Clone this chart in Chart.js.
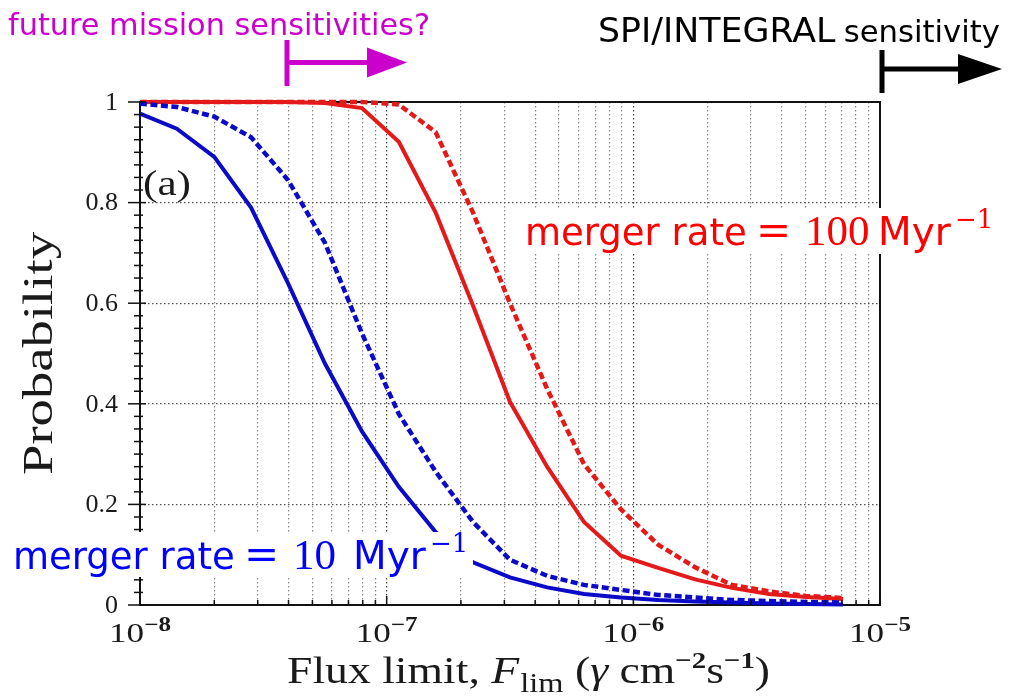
<!DOCTYPE html>
<html>
<head>
<meta charset="utf-8">
<script src="https://cdn.jsdelivr.net/npm/chart.js@4.4.1/dist/chart.umd.min.js"></script>
<style>
  html, body { margin: 0; padding: 0; background: #fff; }
  #wrap { width: 1015px; height: 700px; position: relative; }
</style>
</head>
<body>
<div id="wrap"><canvas id="probChart" width="1015" height="700"></canvas></div>
<script>
// flux limit grid (gamma cm^-2 s^-1)
var fluxLimits = [1.00e-8, 1.41e-8, 2.00e-8, 2.82e-8, 3.98e-8, 5.62e-8, 7.94e-8,
    1.12e-7, 1.58e-7, 2.24e-7, 3.16e-7, 4.47e-7, 6.31e-7, 8.91e-7,
    1.26e-6, 1.78e-6, 2.51e-6, 3.55e-6, 5.01e-6, 7.08e-6];

// merger rate = 10 / Myr
var rate10Solid = [0.977, 0.947, 0.891, 0.79, 0.64, 0.48, 0.345, 0.235, 0.145, 0.085,
    0.055, 0.035, 0.022, 0.015, 0.010, 0.007, 0.005, 0.003, 0.002, 0.001];
var rate10Dashed = [0.997, 0.99, 0.971, 0.93, 0.845, 0.72, 0.54, 0.38, 0.265, 0.165,
    0.09, 0.058, 0.04, 0.03, 0.02, 0.015, 0.010, 0.008, 0.006, 0.005];

// merger rate = 100 / Myr
var rate100Solid = [1, 1, 1, 1, 1, 0.998, 0.988, 0.921, 0.78, 0.595,
    0.404, 0.275, 0.165, 0.098, 0.074, 0.051, 0.034, 0.022, 0.016, 0.012];
var rate100Dashed = [1, 1, 1, 1, 1, 1, 1, 0.995, 0.94, 0.78,
    0.60, 0.43, 0.28, 0.19, 0.12, 0.075, 0.04, 0.027, 0.018, 0.014];

// axis ticks
var xDecades = [1e-8, 1e-7, 1e-6, 1e-5];
var xDecadeExp = ['\u22128', '\u22127', '\u22126', '\u22125'];
var yTicks = [0, 0.2, 0.4, 0.6, 0.8, 1];
var yTickLabels = ['0', '0.2', '0.4', '0.6', '0.8', '1'];

var BLUE = '#0a0ac8';
var RED = '#e41a1a';
var SERIF = '"Liberation Serif", "DejaVu Serif", serif';
var DSERIF = '"DejaVu Serif", serif';
var SANS = '"DejaVu Sans", sans-serif';

function toPoints(values) {
    return values.map(function (v, i) { return { x: fluxLimits[i], y: v }; });
}

// text made of pieces with different fonts / offsets
function runsWidth(ctx, runs) {
    var w = 0;
    runs.forEach(function (r) {
        ctx.font = r.font;
        w += ctx.measureText(r.t).width + (r.gap || 0);
    });
    return w;
}

function drawRuns(ctx, x, y, runs, targetWidth) {
    ctx.save();
    ctx.translate(x, y);
    if (targetWidth) {
        ctx.scale(targetWidth / runsWidth(ctx, runs), 1);
    }
    var cx = 0;
    runs.forEach(function (r) {
        ctx.font = r.font;
        ctx.fillStyle = r.color;
        var px = r.at !== undefined ? r.at : cx;
        ctx.fillText(r.t, px, r.dy || 0);
        cx = px + ctx.measureText(r.t).width + (r.gap || 0);
    });
    ctx.restore();
}

function arrow(ctx, color, x0, y0, y1, yMid, xEnd, headLen, headHalf) {
    ctx.save();
    ctx.fillStyle = color;
    ctx.fillRect(x0 - 2.5, y0, 5, y1 - y0);
    ctx.fillRect(x0, yMid - 2.5, xEnd - headLen - x0 + 2, 5);
    ctx.beginPath();
    ctx.moveTo(xEnd - headLen, yMid - headHalf);
    ctx.lineTo(xEnd, yMid);
    ctx.lineTo(xEnd - headLen, yMid + headHalf);
    ctx.closePath();
    ctx.fill();
    ctx.restore();
}

function rateLabel(value, color) {
    var wide = value.length > 2;
    return [
        { t: 'merger rate', font: '37px ' + SANS, color: color, at: 0 },
        { t: '=', font: '42px ' + DSERIF, color: color, at: 231 },
        { t: value, font: '43px ' + SERIF, color: color, at: 280 },
        { t: 'Myr', font: '39px ' + SANS, color: color, at: wide ? 353 : 340 },
        { t: '\u22121', font: '26px ' + DSERIF, color: color, dy: -17, at: wide ? 430 : 417 }
    ];
}

var decorPlugin = {
    id: 'decor',
    beforeDatasetsDraw: function (chart) {
        var ctx = chart.ctx;
        var area = chart.chartArea;
        // frame under the curves
        ctx.save();
        ctx.strokeStyle = '#111';
        ctx.lineWidth = 2;
        ctx.strokeRect(area.left, area.top, area.right - area.left, area.bottom - area.top);
        ctx.restore();
    },
    afterDraw: function (chart) {
        var ctx = chart.ctx;
        var area = chart.chartArea;
        var xs = chart.scales.x;
        var ys = chart.scales.y;
        ctx.save();
        ctx.strokeStyle = '#111';

        // x tick marks
        ctx.lineWidth = 1.5;
        xs.ticks.forEach(function (t) {
            var px = xs.getPixelForValue(t.value);
            var mant = t.value / Math.pow(10, Math.floor(Math.log10(t.value) + 1e-9));
            var len = Math.abs(mant - 1) < 1e-6 ? 9 : 5;
            ctx.beginPath();
            ctx.moveTo(px, area.bottom);
            ctx.lineTo(px, area.bottom - len);
            ctx.stroke();
        });

        // y tick marks (minor every 0.025)
        for (var k = 0; k <= 40; k++) {
            var py = ys.getPixelForValue(k * 0.025);
            var major = k % 8 === 0;
            ctx.beginPath();
            ctx.moveTo(area.left - (major ? 12 : 6), py);
            ctx.lineTo(area.left + (major ? 6 : 3), py);
            ctx.stroke();
        }

        // y tick labels
        ctx.fillStyle = '#1a1a1a';
        ctx.font = '26px ' + SERIF;
        ctx.textAlign = 'right';
        ctx.textBaseline = 'middle';
        yTicks.forEach(function (v, i) {
            ctx.fillText(yTickLabels[i], 118, ys.getPixelForValue(v) + 1);
        });

        // x tick labels 10^n
        ctx.textAlign = 'left';
        ctx.textBaseline = 'alphabetic';
        xDecades.forEach(function (v, i) {
            var px = xs.getPixelForValue(v);
            drawRuns(ctx, px - 31, 642, [
                { t: '10', font: '28px ' + SERIF, color: '#1a1a1a' },
                { t: xDecadeExp[i], font: 'bold 20px ' + SERIF, color: '#1a1a1a', dy: -11 }
            ], 62);
        });

        // axis titles
        drawRuns(ctx, 287, 683, [
            { t: 'Flux limit, ', font: '38px ' + SERIF, color: '#1a1a1a' },
            { t: 'F', font: 'italic 38px ' + SERIF, color: '#1a1a1a', gap: 1 },
            { t: 'lim', font: '27px ' + SERIF, color: '#1a1a1a', dy: 9 },
            { t: ' (', font: '38px ' + SERIF, color: '#1a1a1a' },
            { t: '\u03b3', font: 'italic 38px ' + SERIF, color: '#1a1a1a' },
            { t: ' cm', font: '38px ' + SERIF, color: '#1a1a1a' },
            { t: '\u22122', font: 'bold 24px ' + SERIF, color: '#1a1a1a', dy: -15 },
            { t: 's', font: '38px ' + SERIF, color: '#1a1a1a' },
            { t: '\u22121', font: 'bold 24px ' + SERIF, color: '#1a1a1a', dy: -15 },
            { t: ')', font: '38px ' + SERIF, color: '#1a1a1a' }
        ], 483);
        ctx.save();
        ctx.translate(52, 475);
        ctx.rotate(-Math.PI / 2);
        drawRuns(ctx, 0, 0, [
            { t: 'Probability', font: '42px ' + SERIF, color: '#1a1a1a' }
        ], 243);
        ctx.restore();

        // panel label
        drawRuns(ctx, 143, 195, [
            { t: '(a)', font: '36px ' + SERIF, color: '#1a1a1a' }
        ], 48);

        // curve labels on white boxes
        ctx.fillStyle = '#fff';
        ctx.fillRect(0, 532, 473, 45);
        drawRuns(ctx, 13, 569, rateLabel('10', '#0000ff'));
        ctx.fillStyle = '#fff';
        ctx.fillRect(513, 208, 502, 46);
        drawRuns(ctx, 525, 245, rateLabel('100', '#ff0000'));

        // sensitivity markers
        drawRuns(ctx, 8, 35, [
            { t: 'future mission sensitivities?', font: '31px ' + SANS, color: '#cc00cc' }
        ], 422);
        arrow(ctx, '#cc00cc', 287, 40, 86, 62.5, 407, 40, 15);

        drawRuns(ctx, 598, 42, [
            { t: 'SPI/INTEGRAL', font: '34px ' + SANS, color: '#000', gap: 8 },
            { t: 'sensitivity', font: '30px ' + SANS, color: '#000' }
        ], 402);
        arrow(ctx, '#000', 882, 50, 93, 69, 1002, 44, 15);

        ctx.restore();
    }
};

var chartData = {
    datasets: [
        {
            label: 'rate 10 dashed',
            data: toPoints(rate10Dashed),
            borderColor: BLUE,
            borderWidth: 4.5,
            borderDash: [7, 3.5],
            clip: 6
        },
        {
            label: 'rate 10 solid',
            data: toPoints(rate10Solid),
            borderColor: BLUE,
            borderWidth: 4,
            clip: 6
        },
        {
            label: 'rate 100 dashed',
            data: toPoints(rate100Dashed),
            borderColor: RED,
            borderWidth: 4.5,
            borderDash: [7, 3.5],
            clip: 6
        },
        {
            label: 'rate 100 solid',
            data: toPoints(rate100Solid),
            borderColor: RED,
            borderWidth: 4,
            clip: 6
        }
    ]
};

var ctx = document.getElementById('probChart').getContext('2d');
var myChart = new Chart(ctx, {
    type: 'line',
    data: chartData,
    plugins: [decorPlugin],
    options: {
        responsive: false,
        animation: false,
        layout: {
            padding: { left: 140, right: 135, top: 102, bottom: 95 }
        },
        elements: {
            point: { radius: 0 },
            line: { tension: 0 }
        },
        plugins: {
            legend: { display: false },
            tooltip: { enabled: false }
        },
        scales: {
            x: {
                type: 'logarithmic',
                min: 1e-8,
                max: 1e-5,
                afterBuildTicks: function (scale) {
                    var ticks = [];
                    xDecades.forEach(function (d) {
                        for (var m = 1; m <= 9; m++) {
                            if (d * m <= 1e-5 * 1.0001) ticks.push({ value: d * m });
                        }
                    });
                    scale.ticks = ticks;
                },
                ticks: { display: false },
                grid: {
                    drawTicks: false,
                    lineWidth: 1.2,
                    color: function (c) {
                        var v = c.tick ? c.tick.value : 1;
                        var mant = v / Math.pow(10, Math.floor(Math.log10(v) + 1e-9));
                        return Math.abs(mant - 1) < 1e-6 ? '#444' : '#8a8a8a';
                    }
                },
                border: { display: false, dash: [1.5, 2.5] }
            },
            y: {
                min: 0,
                max: 1,
                afterBuildTicks: function (scale) {
                    scale.ticks = yTicks.map(function (v) { return { value: v }; });
                },
                ticks: { display: false },
                grid: { drawTicks: false, color: '#555', lineWidth: 1.2 },
                border: { display: false, dash: [1.5, 2.5] }
            }
        }
    }
});
</script>
</body>
</html>
